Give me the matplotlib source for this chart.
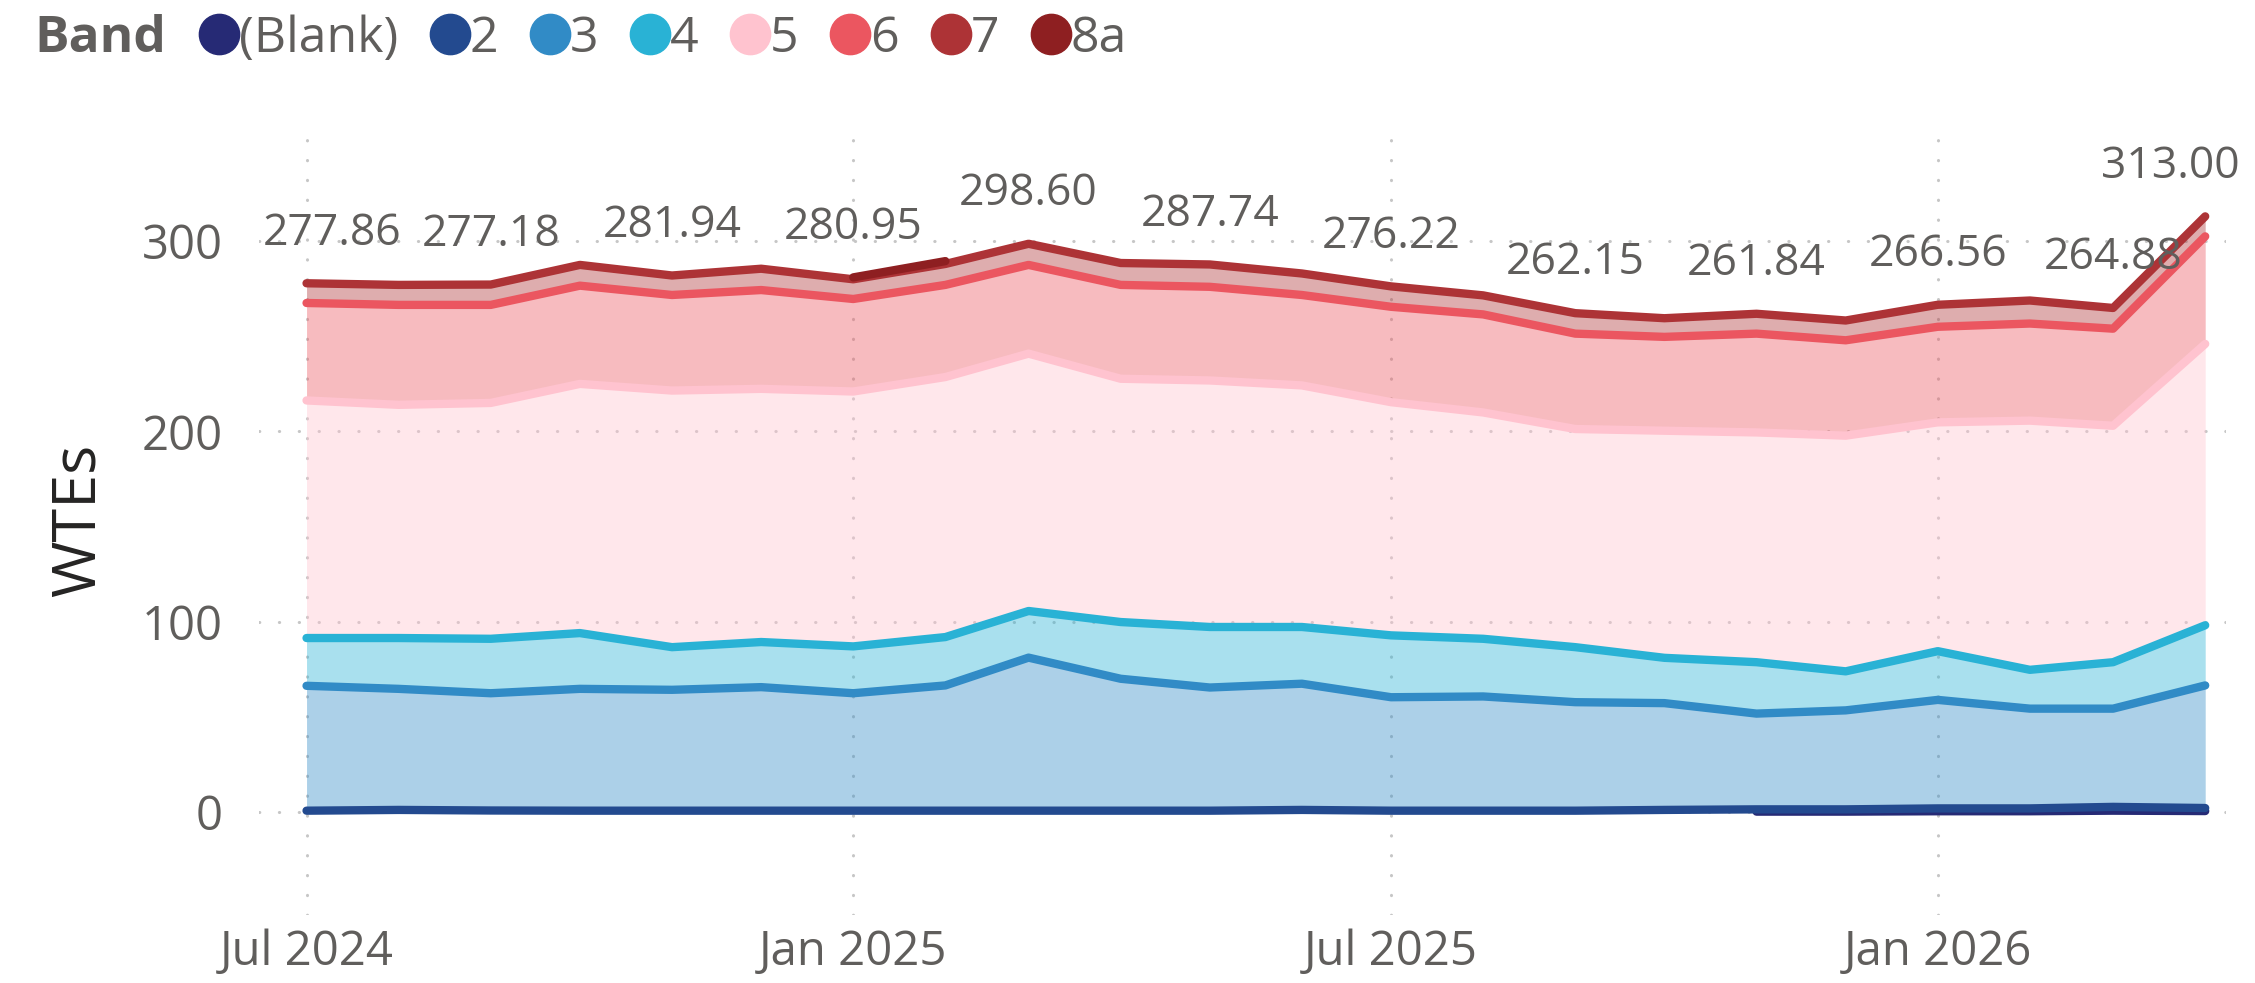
import matplotlib
matplotlib.use("Agg")
import matplotlib.pyplot as plt
import matplotlib.dates as mdates
from matplotlib.lines import Line2D
import numpy as np
import pandas as pd

plt.rcParams['font.family'] = ['Open Sans', 'DejaVu Sans']

# Monthly WTEs by band, Jul 2024 - Apr 2026
months = pd.date_range("2024-07-01", "2026-04-01", freq="MS")
nan = np.nan

band_names = ["(Blank)", "2", "3", "4", "5", "6", "7", "8a"]
band_colors = ["#262A75", "#234A8F", "#318BC6", "#29B2D5",
               "#FFC3CF", "#EB5660", "#AD3336", "#8E1F21"]

blank = [nan, nan, nan, nan, nan, nan, nan, nan, nan, nan, nan,
         nan, nan, nan, nan, nan, 0.3, 0.3, 0.5, 0.5, 0.8, 0.6]
band_2 = [0.8, 1.2, 0.9, 0.8, 0.8, 0.8, 0.8, 0.8, 0.8, 0.8, 0.8,
          1.2, 0.8, 0.8, 0.8, 1.2, 1.2, 1.2, 1.5, 1.5, 2.0, 1.6]
band_3 = [65.6, 63.6, 61.6, 64.0, 63.5, 64.9, 61.7, 65.8, 80.4, 69.3, 64.7,
          66.3, 59.6, 60.0, 57.0, 56.1, 50.3, 52.0, 57.0, 52.4, 51.6, 64.4]
band_4 = [25.1, 26.7, 28.6, 29.3, 22.4, 23.7, 24.6, 25.4, 24.5, 29.8, 31.8,
          29.8, 32.5, 30.3, 28.9, 23.8, 27.0, 20.5, 25.6, 20.4, 24.4, 31.6]
band_5 = [124.8, 122.5, 123.9, 130.9, 134.8, 133.0, 133.9, 136.6, 135.2, 127.8, 129.5,
          126.9, 122.5, 118.9, 114.6, 119.3, 120.7, 123.8, 120.2, 130.9, 124.2, 147.8]
band_6 = [51.2, 52.5, 51.5, 51.6, 50.2, 51.9, 48.6, 48.4, 46.6, 49.3, 49.2,
          47.5, 50.1, 51.5, 50.1, 49.3, 51.9, 50.1, 50.2, 51.0, 51.0, 56.5]
band_7 = [10.36, 10.5, 10.68, 10.9, 10.24, 11.2, 10.35, 11.0, 11.1, 11.5, 11.74,
          11.3, 10.72, 10.0, 10.75, 9.8, 10.44, 10.4, 11.56, 12.1, 10.88, 10.5]
band_8a = [nan, nan, nan, nan, nan, nan, 1.0, 1.5, nan, nan, nan,
           nan, nan, nan, nan, nan, nan, nan, nan, nan, nan, nan]

# months that carry a total label
label_idx = [0, 2, 4, 6, 8, 10, 12, 14, 16, 18, 20, 21]

vals = np.array([blank, band_2, band_3, band_4, band_5, band_6, band_7, band_8a])
filled = np.nan_to_num(vals)
tops = np.cumsum(filled, axis=0)
bottoms = tops - filled
totals = filled.sum(axis=0)

fig = plt.figure(figsize=(22.55, 9.83), dpi=100)
ax = fig.add_axes([259 / 2255, 1 - 915 / 983, (2226 - 259) / 2255, (915 - 125) / 983])

for i, c in enumerate(band_colors):
    mask = ~np.isnan(vals[i])
    ax.fill_between(months, np.where(mask, bottoms[i], nan), np.where(mask, tops[i], nan),
                    color=c, alpha=0.4, lw=0, zorder=2)
for i, c in enumerate(band_colors):
    mask = ~np.isnan(vals[i])
    ax.plot(months, np.where(mask, tops[i], nan), color=c, lw=6,
            solid_capstyle='round', solid_joinstyle='round', zorder=3)

labels = []
for j in label_idx:
    t = ax.annotate(f"{totals[j]:.2f}", (months[j], totals[j]), xytext=(0, 36),
                    textcoords='offset points', ha='center', va='center',
                    fontsize=32, color='#605E5C', zorder=5)
    labels.append(t)

ax.set_xlim(pd.Timestamp("2024-06-15"), pd.Timestamp("2026-04-08"))
ax.set_ylim(-54, 361)
ax.set_yticks([0, 100, 200, 300])
ax.xaxis.set_major_locator(mdates.MonthLocator(bymonth=[1, 7]))
ax.xaxis.set_major_formatter(mdates.DateFormatter('%b %Y'))
ax.grid(True, color='#C6C6C6', linestyle=(0, (0.1, 6.4)), lw=2.2,
        dash_capstyle='round', zorder=1)
ax.set_axisbelow(True)
for s in ax.spines.values():
    s.set_visible(False)
ax.tick_params(axis='both', length=0, labelsize=34, labelcolor='#605E5C')
ax.tick_params(axis='y', pad=26)
ax.tick_params(axis='x', pad=10)
ax.set_ylabel("WTEs", fontsize=44, color='#252423', labelpad=24)

# keep data labels inside the plot area
fig.canvas.draw()
r = fig.canvas.get_renderer()
axbox = ax.get_window_extent(r)
for t in labels:
    bb = t.get_window_extent(r)
    dx = 0
    if bb.x0 < axbox.x0:
        dx = axbox.x0 + 4 - bb.x0
    elif bb.x1 > axbox.x1 + 14:
        dx = axbox.x1 + 14 - bb.x1
    if dx:
        ox, oy = t.xyann
        t.xyann = (ox + dx * 72 / fig.dpi, oy)

# legend
handles = [Line2D([], [], marker='o', linestyle='', markersize=29,
                  markerfacecolor=c, markeredgecolor=c) for c in band_colors]
fig.text(34 / 2255, 1 - 39 / 983, "Band", fontsize=37, fontweight='bold',
         color='#605E5C', va='center', ha='left')
fig.legend(handles, band_names, loc='center left', bbox_to_anchor=(199 / 2255, 1 - 39 / 983),
           ncol=8, frameon=False, fontsize=36, labelcolor='#605E5C',
           handlelength=0.8, handletextpad=0.0, columnspacing=0.63, borderpad=0,
           borderaxespad=0)

fig.savefig("out.png", dpi=100)
